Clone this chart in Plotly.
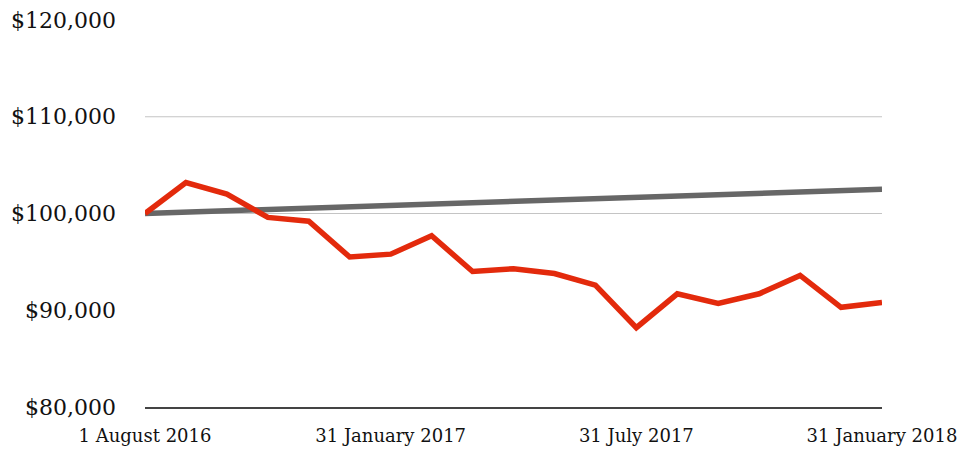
import plotly.graph_objects as go

months = list(range(19))
portfolio = [100000, 103200, 102000, 99600, 99200, 95500, 95800, 97700, 94000, 94300,
             93800, 92600, 88200, 91700, 90700, 91700, 93600, 90300, 90800]
benchmark = [100000, 100140, 100280, 100420, 100560, 100700, 100840, 100980, 101120, 101260,
             101400, 101540, 101680, 101820, 101960, 102100, 102240, 102380, 102500]
x_tickvals = [0, 6, 12, 18]
x_ticktext = ["1 August 2016", "31 January 2017", "31 July 2017", "31 January 2018"]
y_tickvals = [80000, 90000, 100000, 110000, 120000]
y_ticktext = ["$80,000", "$90,000", "$100,000", "$110,000", "$120,000"]
grid_values = [100000, 110000]

fig = go.Figure()
fig.add_trace(go.Scatter(x=months, y=benchmark, mode="lines",
                         line=dict(color="#676767", width=5.5), showlegend=False))
fig.add_trace(go.Scatter(x=months, y=portfolio, mode="lines",
                         line=dict(color="#e32a0c", width=5.5), showlegend=False))

for g in grid_values:
    fig.add_shape(type="line", xref="paper", yref="y", x0=0, x1=1, y0=g, y1=g,
                  line=dict(color="#c4c4c4", width=1), layer="below")

fig.update_layout(
    width=966, height=449,
    margin=dict(l=145, r=84, t=20, b=42),
    paper_bgcolor="white", plot_bgcolor="white",
    font=dict(family="DejaVu Serif", color="#111111"),
    xaxis=dict(range=[0, 18], tickvals=x_tickvals, ticktext=x_ticktext,
               showgrid=False, zeroline=False, showline=True,
               linecolor="#444444", linewidth=1.5, automargin=False,
               tickfont=dict(size=18, family="DejaVu Serif"),
               ticks="", ticklabelstandoff=12),
    yaxis=dict(range=[80000, 120000], tickvals=y_tickvals, ticktext=y_ticktext,
               showgrid=False, zeroline=False, showline=False, automargin=False,
               tickfont=dict(size=22, family="DejaVu Serif"),
               ticks="", ticklabelstandoff=28),
)

fig.write_html("out.html")
